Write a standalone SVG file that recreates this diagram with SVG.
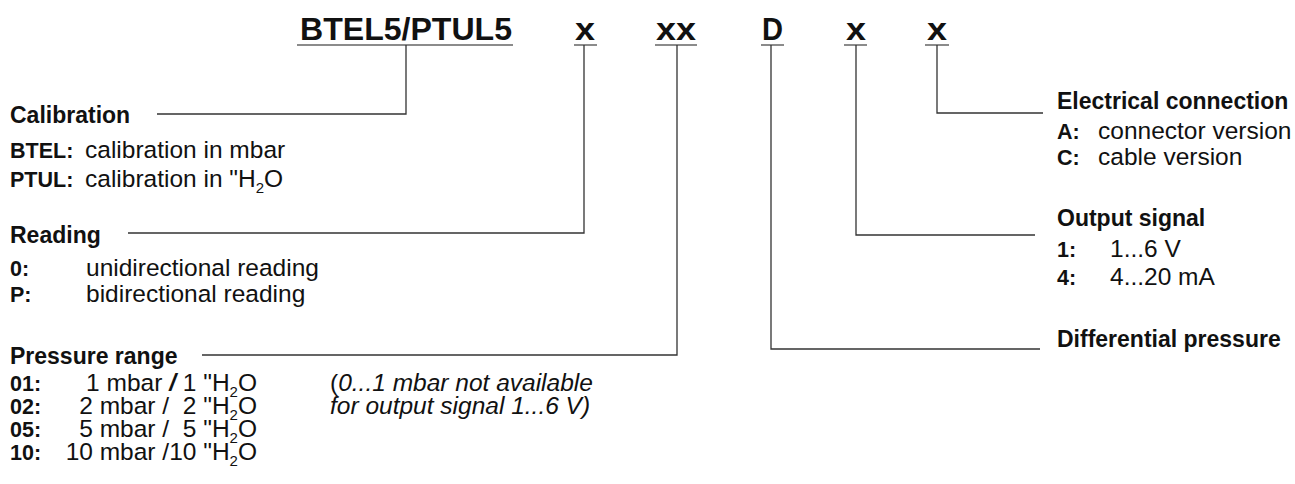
<svg xmlns="http://www.w3.org/2000/svg" width="1295" height="484" viewBox="0 0 1295 484">
<style>
text{font-family:"Liberation Sans",Arial,sans-serif;fill:#111;white-space:pre}
.t{font-size:32px;font-weight:bold}
.h{font-size:23px;font-weight:bold}
.b{font-size:21.5px;font-weight:bold}
.r{font-size:24.5px}
.i{font-style:italic}
.sub{font-size:15px}
.ul{stroke:#666;stroke-width:1.6;fill:none}
.ln{stroke:#333;stroke-width:1.3;fill:none}
</style>
<rect width="1295" height="484" fill="#fff"/>
<g id="code">
<text class="t" x="300" y="40" textLength="212" lengthAdjust="spacingAndGlyphs">BTEL5/PTUL5</text>
<text class="t" x="575" y="40" textLength="20" lengthAdjust="spacingAndGlyphs">x</text>
<text class="t" x="656" y="40" textLength="40" lengthAdjust="spacingAndGlyphs">xx</text>
<text class="t" x="762" y="40" textLength="21" lengthAdjust="spacingAndGlyphs">D</text>
<text class="t" x="846" y="40" textLength="20" lengthAdjust="spacingAndGlyphs">x</text>
<text class="t" x="927" y="40" textLength="20" lengthAdjust="spacingAndGlyphs">x</text>
<path class="ul" d="M297 45H513M574 45H597M655 45H697M761 45H784M844 45H867M925 45H949"/>
</g>
<g id="connectors">
<path class="ln" d="M406 45V114H157"/>
<path class="ln" d="M584 45V233H128"/>
<path class="ln" d="M677 45V355H202"/>
<path class="ln" d="M771 45V349H1040"/>
<path class="ln" d="M856 45V235H1035"/>
<path class="ln" d="M937 45V113H1043"/>
</g>
<g id="calibration">
<text class="h" x="10" y="123">Calibration</text>
<text class="b" x="10" y="158">BTEL:</text>
<text class="r" x="85" y="158">calibration in mbar</text>
<text class="b" x="10" y="187">PTUL:</text>
<text class="r" x="85" y="187">calibration in "H<tspan class="sub" dy="6">2</tspan><tspan dy="-6">O</tspan></text>
</g>
<g id="reading">
<text class="h" x="10" y="243">Reading</text>
<text class="b" x="10" y="276">0:</text>
<text class="r" x="86" y="276">unidirectional reading</text>
<text class="b" x="10" y="302">P:</text>
<text class="r" x="86" y="302">bidirectional reading</text>
</g>
<g id="pressure">
<text class="h" x="10" y="364">Pressure range</text>
<text class="b" x="10" y="391">01:</text>
<text class="r" x="257" y="391" text-anchor="end">1 mbar <tspan font-weight="bold" font-style="italic">/</tspan> 1 "H<tspan class="sub" dy="6">2</tspan><tspan dy="-6">O</tspan></text>
<text class="b" x="10" y="414">02:</text>
<text class="r" x="257" y="414" text-anchor="end">2 mbar /  2 "H<tspan class="sub" dy="6">2</tspan><tspan dy="-6">O</tspan></text>
<text class="b" x="10" y="437">05:</text>
<text class="r" x="257" y="437" text-anchor="end">5 mbar /  5 "H<tspan class="sub" dy="6">2</tspan><tspan dy="-6">O</tspan></text>
<text class="b" x="10" y="460">10:</text>
<text class="r" x="257" y="460" text-anchor="end">10 mbar /10 "H<tspan class="sub" dy="6">2</tspan><tspan dy="-6">O</tspan></text>
<text class="r" x="330" y="391">(<tspan class="i">0...1 mbar not available</tspan></text>
<text class="r i" x="330" y="414">for output signal 1...6 V)</text>
</g>
<g id="electrical">
<text class="h" x="1057" y="109">Electrical connection</text>
<text class="b" x="1057" y="139">A:</text>
<text class="r" x="1098" y="139">connector version</text>
<text class="b" x="1057" y="165">C:</text>
<text class="r" x="1098" y="165">cable version</text>
</g>
<g id="output">
<text class="h" x="1057" y="226">Output signal</text>
<text class="b" x="1057" y="257">1:</text>
<text class="r" x="1110" y="257">1...6 V</text>
<text class="b" x="1057" y="285">4:</text>
<text class="r" x="1110" y="285">4...20 mA</text>
</g>
<g id="differential">
<text class="h" x="1057" y="347">Differential pressure</text>
</g>
</svg>
